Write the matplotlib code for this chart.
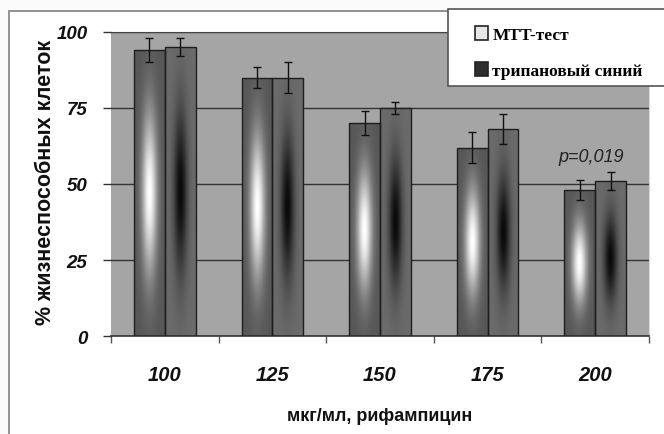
import numpy as np
import matplotlib
matplotlib.use("Agg")
import matplotlib.pyplot as plt
from matplotlib.patches import Rectangle, Patch

# Data: rifampicin concentration (mcg/ml) vs % viable cells
concentrations = ["100", "125", "150", "175", "200"]
mtt = [94, 85, 70, 62, 48]
mtt_err = [4, 3.5, 4, 5, 3.3]
trypan = [95, 85, 75, 68, 51]
trypan_err = [3, 5, 2, 5, 3]
series_names = ["MTT-тест", "трипановый синий"]
p_label = "p=0,019"

SANS = ["Liberation Sans", "DejaVu Sans"]
SERIF = ["Liberation Serif", "DejaVu Serif"]

W, H = 664, 435
fig = plt.figure(figsize=(W / 100, H / 100), dpi=100)
fig.patch.set_facecolor("#fbfbfb")

# outer chart frame
fig.patches.append(Rectangle((9 / W, -0.1), 1.2, 1 - 12 / H + 0.1,
                             transform=fig.transFigure, facecolor="white",
                             edgecolor="#8a8a8a", linewidth=1.3, zorder=-5))

ax = fig.add_axes([111 / W, 1 - 337 / H, 538 / W, 304 / H])
ax.set_zorder(1)
ax.set_facecolor("#a5a5a5")

x = np.arange(len(concentrations))
bw = 0.287


def shade(kind, nx=40, ny=200):
    u = np.linspace(-1, 1, nx)[None, :]
    t = np.linspace(0, 1, ny)[:, None]
    if kind == "light":
        fx = np.exp(-(u / 0.5) ** 2)
        fy = np.exp(-((t - 0.50) / 0.28) ** 2)
        return 0.34 + 0.66 * fx * fy
    fx = np.exp(-(u / 0.45) ** 2)
    fy = np.exp(-((t - 0.50) / 0.28) ** 2)
    return 0.42 - 0.38 * fx * fy


def gradient_bars(xpos, heights, errs, kind):
    bars = ax.bar(xpos, heights, bw, facecolor="none", edgecolor="#1e1e1e",
                  linewidth=1.0, zorder=3)
    for b in bars:
        x0, y0 = b.get_x(), b.get_y()
        img = ax.imshow(shade(kind), cmap="gray", vmin=0, vmax=1, origin="lower",
                        extent=(x0, x0 + b.get_width(), y0, y0 + b.get_height()),
                        aspect="auto", interpolation="bilinear", zorder=2)
        img.set_clip_path(b)
    ax.errorbar(xpos, heights, yerr=errs, fmt="none", ecolor="#111111",
                elinewidth=1.0, capsize=3, capthick=1.0, zorder=4)


gradient_bars(x - bw / 2, mtt, mtt_err, "light")
gradient_bars(x + bw / 2, trypan, trypan_err, "dark")
ax.set_xlim(-0.5, 4.5)
ax.set_ylim(0, 100)

# grid and axes styling
ax.set_yticks([0, 25, 50, 75, 100])
ax.yaxis.grid(True, color="#333333", linewidth=1.0, zorder=1)
ax.set_axisbelow(True)
ax.tick_params(axis="y", direction="out", length=6, width=1, color="#333333",
               pad=11)
for lab in ax.get_yticklabels():
    lab.set_fontfamily(SANS)
    lab.set_fontsize(13.5)
    lab.set_fontweight("bold")
    lab.set_fontstyle("italic")
    lab.set_color("#111111")

ax.set_xticks(np.arange(-0.5, 5, 1))
ax.set_xticklabels([])
ax.set_xticks(x, minor=True)
ax.set_xticklabels(concentrations, minor=True, fontfamily=SANS, fontsize=14.5,
                   fontweight="bold", fontstyle="italic", color="#111111")
ax.tick_params(axis="x", which="major", direction="out", length=5, width=1,
               color="#555555")
ax.tick_params(axis="x", which="minor", length=0, pad=21)

ax.spines["left"].set_visible(False)
ax.spines["top"].set_color("#444444")
ax.spines["bottom"].set_color("#333333")
ax.spines["bottom"].set_linewidth(1.2)
ax.spines["right"].set_color("#d8d8d8")

ax.set_ylabel("% жизнеспособных клеток", fontfamily=SANS, fontsize=15.5,
              fontweight="bold", color="#111111")
ax.yaxis.set_label_coords(-0.102, 0.51)
ax.set_xlabel("мкг/мл, рифампицин", fontfamily=SANS, fontsize=13,
              fontweight="bold", color="#111111")
ax.xaxis.set_label_coords(0.5, -0.232)

ax.text(x[-1] - 0.04, 59, p_label, ha="center", va="center", fontfamily=SANS,
        fontsize=13, fontstyle="italic", color="#222222", zorder=5)

# legend box
fig.patches.append(Rectangle((448 / W, 1 - 87 / H), 0.4, 77 / H,
                             transform=fig.transFigure, facecolor="white",
                             edgecolor="#555555", linewidth=1.2, zorder=5))
handles = [Patch(facecolor="#e6e6e6", edgecolor="#222222", linewidth=1.2),
           Patch(facecolor="#2e2e2e", edgecolor="#222222", linewidth=1.2)]
leg = fig.legend(handles, series_names, loc="upper left",
                 bbox_to_anchor=(468 / W, 1 - 20 / H), frameon=False,
                 prop={"family": SERIF, "weight": "bold", "size": 12.5},
                 handlelength=0.75, handleheight=0.85, handletextpad=0.25,
                 labelspacing=1.12, borderaxespad=0)
leg.set_zorder(6)

fig.savefig("out.png", dpi=100, facecolor=fig.get_facecolor())
